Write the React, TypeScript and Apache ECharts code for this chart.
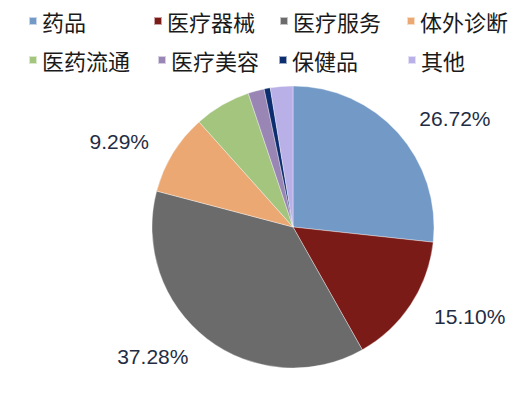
import React, { useEffect, useRef } from "react";
import * as echarts from "echarts";

const categories = ["药品", "医疗器械", "医疗服务", "体外诊断", "医药流通", "医疗美容", "保健品", "其他"];
const shares = [26.72, 15.1, 37.28, 9.29, 6.47, 1.86, 0.7, 2.58];
const labelled = ["药品", "医疗器械", "医疗服务", "体外诊断"];
const colors = ["#7399C6", "#7B1B18", "#6B6B6B", "#EBA872", "#A4C57E", "#9A86B5", "#0C2D6E", "#B9B0E8"];

// legend squares sit on a loose grid: [left, top]
const legendSpots = [
    [28, 7], [153, 7], [279, 7], [406, 7],
    [28, 46], [157, 46], [278, 46], [407, 46],
];

const App = () => {
    const chartRef = useRef(null);

    useEffect(() => {
        document.body.style.margin = "0";
        if (!chartRef.current) return;
        const chart = echarts.init(chartRef.current, null, { renderer: "svg" });

        const legends = categories.map((name, i) => ({
            data: [name],
            left: legendSpots[i][0],
            top: legendSpots[i][1],
            padding: 0,
            icon: "rect",
            itemWidth: 8,
            itemHeight: 8,
            selectedMode: false,
            textStyle: {
                fontSize: 22,
                lineHeight: 28,
                color: "#1a1a1a",
                fontFamily: "Noto Sans CJK SC",
            },
        }));

        chart.setOption({
            animation: false,
            color: colors,
            legend: legends,
            series: [
                {
                    type: "pie",
                    center: [293, 227],
                    radius: 141,
                    startAngle: 90,
                    avoidLabelOverlap: false,
                    itemStyle: { borderColor: "rgba(255,255,255,0.6)", borderWidth: 0.6 },
                    label: {
                        position: "outside",
                        fontSize: 21,
                        color: "#1f2d44",
                        fontFamily: "Liberation Sans, Arial, sans-serif",
                        formatter: (p) => (labelled.includes(p.name) ? p.value.toFixed(2) + "%" : ""),
                    },
                    labelLine: { show: false, length: 22, length2: 0 },
                    emphasis: { disabled: true },
                    data: categories.map((name, i) => ({ name, value: shares[i] })),
                },
            ],
        });

        return () => chart.dispose();
    }, []);

    return <div ref={chartRef} style={{ width: "517px", height: "400px", background: "#fff" }} />;
};

export default App;
